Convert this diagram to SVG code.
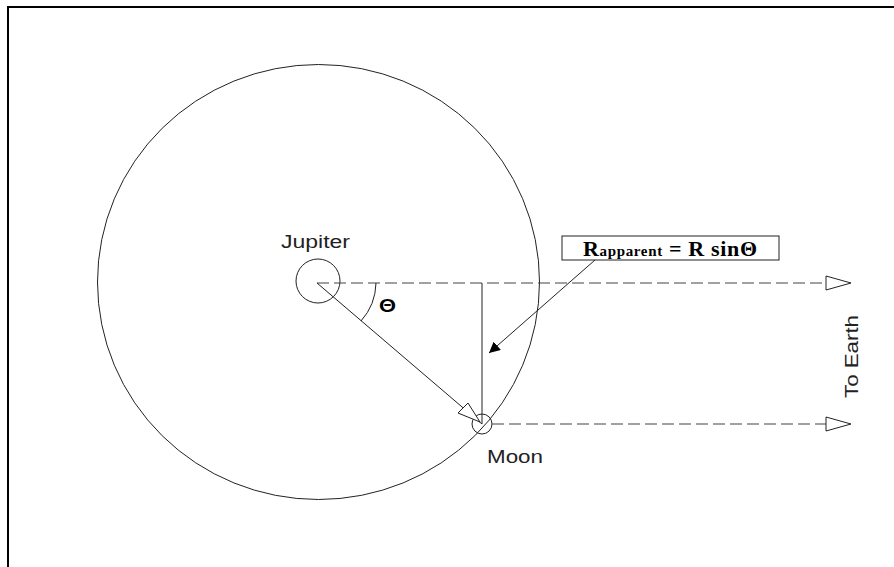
<svg xmlns="http://www.w3.org/2000/svg" width="894" height="567" viewBox="0 0 894 567">
<defs>
<style>
.ln{stroke:#222;stroke-width:1;fill:none}
.dash{stroke:#444;stroke-width:1.2;fill:none;stroke-dasharray:12 5}
.lbl{font-family:"Liberation Sans",Arial,sans-serif;font-size:18px;fill:#222}
.openhead{fill:#fff;stroke:#222;stroke-width:1}
</style>
<marker id="filled" viewBox="0 0 10 10" refX="10" refY="5" markerWidth="11" markerHeight="11" markerUnits="userSpaceOnUse" orient="auto">
<path d="M0,0 L10,5 L0,10 z" fill="#000"/>
</marker>
</defs>
<rect width="894" height="567" fill="#fff"/>
<g id="frame">
<line x1="8" y1="7" x2="894" y2="7" stroke="#000" stroke-width="2"/>
<line x1="8" y1="6" x2="8" y2="567" stroke="#000" stroke-width="2"/>
</g>
<g id="orbit"><ellipse cx="318.5" cy="282" rx="221" ry="217.5" class="ln"/></g>
<g id="jupiter">
<circle cx="318" cy="281" r="22" class="ln"/>
<text class="lbl" x="281" y="248" textLength="69" lengthAdjust="spacingAndGlyphs">Jupiter</text>
</g>
<g id="moon">
<circle cx="482" cy="424" r="10" class="ln"/>
<text class="lbl" x="487" y="463" font-size="19" textLength="56" lengthAdjust="spacingAndGlyphs">Moon</text>
</g>
<g id="to-earth">
<text class="lbl" transform="translate(858,398) rotate(-90)" textLength="83" lengthAdjust="spacingAndGlyphs">To Earth</text>
</g>
<g id="formula">
<rect x="562" y="236" width="217" height="24" fill="#fff" stroke="#222" stroke-width="1"/>
<text x="583" y="256" font-family="'Liberation Serif','Times New Roman',serif" font-weight="bold" font-size="22" fill="#000" textLength="174" lengthAdjust="spacing">R<tspan font-size="15">apparent</tspan> = R sinΘ</text>
</g>
<g id="theta">
<text x="379" y="312" font-family="'Liberation Sans',Arial,sans-serif" font-weight="bold" font-size="18" fill="#000" textLength="17" lengthAdjust="spacingAndGlyphs">Θ</text>
</g>
<g id="connectors">
<line x1="317" y1="283" x2="826" y2="283" class="dash"/>
<line x1="492" y1="424" x2="826" y2="424" class="dash"/>
<path d="M826,276 L851,283 L826,290 z" class="openhead"/>
<path d="M826,417 L851,424 L826,431 z" class="openhead"/>
<line x1="317" y1="283" x2="482" y2="424" class="ln"/>
<path d="M480,422 L458,413 L468,403 z" class="openhead"/>
<line x1="482" y1="283" x2="482" y2="424" class="ln"/>
<path d="M376,283 A59,59 0 0 1 361,321" class="ln"/>
<line x1="595" y1="260" x2="489" y2="353" class="ln" marker-end="url(#filled)"/>
</g>
</svg>
